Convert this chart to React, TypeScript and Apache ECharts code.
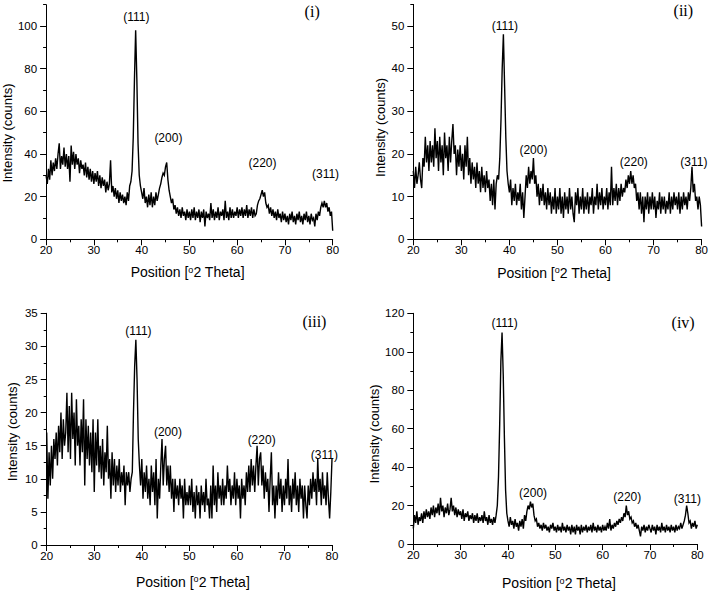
import React, { useEffect, useRef } from "react";
import * as echarts from "echarts";

// ---- data ----
const SCAN_START = 20;
const SCAN_STEP = 0.25;

const countsI = [
  30, 26, 33, 28, 37, 30, 36, 32, 38, 33, 40, 45, 33, 39, 35, 43, 34, 40, 33, 39,
  27, 44, 35, 41, 33, 40, 35, 38, 31, 37, 33, 35, 30, 36, 29, 34, 28, 33, 27, 32,
  26, 31, 27, 32, 25, 30, 24, 29, 25, 28, 22, 27, 23, 26, 37, 22, 25, 20, 24, 19,
  23, 17, 22, 18, 21, 17, 20, 16, 22, 18, 25, 27, 32, 48, 75, 98, 75, 45, 30, 25,
  22, 19, 24, 17, 20, 15, 21, 16, 22, 15, 20, 16, 22, 18, 21, 24, 26, 29, 31, 30,
  34, 36, 28, 23, 20, 17, 19, 14, 16, 12, 15, 11, 14, 10, 15, 11, 13, 9, 14, 10,
  13, 9, 14, 10, 15, 9, 13, 10, 14, 8, 13, 10, 14, 6, 13, 10, 12, 9, 17, 10,
  14, 9, 13, 10, 15, 9, 13, 11, 14, 9, 18, 10, 13, 9, 15, 10, 14, 10, 13, 11,
  15, 10, 14, 11, 15, 10, 14, 11, 16, 10, 14, 11, 15, 10, 14, 11, 12, 16, 18, 19,
  21, 23, 20, 22, 17, 15, 16, 12, 15, 11, 14, 10, 13, 9, 14, 10, 12, 8, 13, 9,
  12, 8, 11, 7, 12, 9, 13, 8, 11, 7, 12, 9, 13, 8, 11, 7, 12, 9, 13, 8,
  11, 7, 12, 9, 10, 6, 12, 9, 13, 11, 15, 17, 15, 18, 15, 17, 13, 15, 11, 13,
  4,
];

const countsII = [
  16, 12, 17, 13, 15, 18, 14, 12, 19, 17, 24, 18, 22, 16, 23, 18, 22, 17, 26, 19,
  23, 16, 24, 18, 22, 15, 25, 19, 22, 16, 24, 18, 23, 27, 20, 22, 15, 21, 17, 22,
  16, 20, 14, 22, 17, 24, 15, 19, 13, 18, 14, 17, 12, 18, 13, 16, 11, 17, 12, 15,
  11, 16, 12, 14, 9, 13, 8, 14, 7, 13, 15, 14, 19, 28, 40, 48, 36, 24, 16, 13,
  11, 14, 8, 12, 9, 13, 8, 11, 9, 13, 7, 11, 5, 10, 15, 12, 17, 13, 16, 14,
  19, 13, 15, 10, 13, 8, 12, 9, 13, 8, 11, 7, 12, 8, 11, 6, 10, 7, 12, 6,
  10, 7, 12, 6, 10, 5, 11, 7, 10, 6, 12, 7, 10, 6, 4, 11, 8, 12, 6, 10,
  7, 12, 6, 10, 7, 11, 6, 10, 8, 12, 6, 10, 8, 13, 7, 11, 8, 12, 7, 10,
  8, 12, 7, 11, 8, 17, 8, 12, 9, 13, 8, 12, 9, 13, 10, 12, 11, 14, 12, 15,
  13, 16, 13, 15, 12, 13, 9, 11, 7, 11, 6, 10, 4, 10, 7, 11, 6, 10, 7, 11,
  7, 10, 5, 9, 7, 11, 6, 10, 7, 10, 6, 9, 7, 11, 6, 10, 7, 11, 8, 10,
  7, 11, 6, 10, 7, 11, 8, 10, 7, 11, 9, 12, 17, 11, 13, 9, 10, 7, 10, 8,
  3,
];

const countsIII = [
  17, 7, 14, 9, 15, 10, 16, 13, 17, 12, 18, 14, 20, 13, 19, 15, 17, 23, 14, 21,
  13, 23, 16, 20, 12, 22, 15, 18, 12, 19, 14, 22, 9, 19, 13, 18, 12, 17, 11, 19,
  8, 17, 12, 19, 11, 15, 10, 16, 9, 14, 11, 18, 10, 13, 7, 14, 9, 13, 8, 12,
  9, 13, 8, 11, 9, 12, 6, 11, 9, 11, 8, 10, 11, 20, 27, 31, 25, 16, 12, 9,
  13, 7, 11, 8, 12, 7, 10, 6, 12, 8, 11, 6, 13, 4, 10, 7, 12, 16, 9, 13,
  15, 9, 12, 8, 12, 7, 10, 5, 10, 7, 9, 6, 10, 7, 9, 4, 10, 6, 8, 6,
  9, 6, 10, 5, 8, 4, 9, 6, 8, 4, 9, 6, 8, 5, 10, 6, 7, 4, 9, 4,
  12, 6, 9, 5, 11, 7, 9, 6, 10, 6, 9, 7, 12, 8, 10, 6, 9, 7, 11, 6,
  10, 7, 9, 4, 10, 7, 9, 6, 11, 8, 12, 8, 13, 9, 12, 8, 12, 15, 9, 13,
  14, 9, 12, 7, 11, 8, 10, 5, 10, 14, 6, 9, 4, 9, 6, 11, 7, 10, 5, 9,
  6, 10, 7, 13, 6, 9, 5, 10, 7, 11, 6, 9, 5, 10, 7, 9, 4, 9, 6, 4,
  9, 6, 10, 7, 11, 8, 10, 6, 13, 8, 10, 6, 11, 7, 9, 6, 11, 7, 4, 8,
  13,
];

const countsIV = [
  8, 15, 11, 17, 10, 14, 12, 16, 11, 17, 13, 18, 14, 17, 13, 19, 15, 20, 14, 19,
  16, 21, 15, 24, 17, 20, 14, 19, 16, 21, 15, 18, 24, 17, 20, 15, 19, 14, 18, 15,
  17, 13, 18, 12, 16, 14, 17, 12, 15, 13, 16, 11, 15, 12, 16, 11, 14, 12, 15, 11,
  17, 12, 14, 10, 15, 11, 13, 10, 14, 11, 15, 20, 35, 62, 95, 110, 88, 55, 28, 16,
  12, 9, 14, 10, 12, 8, 13, 9, 11, 7, 12, 9, 13, 8, 15, 12, 17, 20, 18, 22,
  19, 21, 15, 12, 13, 9, 11, 8, 10, 7, 11, 8, 10, 7, 9, 6, 10, 8, 11, 7,
  9, 6, 10, 7, 9, 6, 11, 7, 9, 6, 10, 7, 9, 5, 10, 6, 9, 5, 10, 7,
  9, 5, 10, 6, 9, 7, 10, 6, 9, 7, 10, 6, 11, 7, 9, 6, 10, 7, 9, 6,
  10, 7, 9, 7, 11, 8, 13, 7, 10, 8, 11, 9, 12, 10, 13, 11, 14, 12, 16, 14,
  20, 15, 17, 13, 14, 11, 12, 9, 11, 8, 10, 7, 4, 9, 7, 10, 6, 9, 7, 10,
  8, 6, 10, 7, 9, 5, 10, 7, 9, 6, 11, 7, 9, 6, 10, 7, 9, 6, 10, 7,
  9, 6, 10, 7, 9, 8, 11, 8, 10, 12, 15, 20, 16, 11, 12, 8, 11, 9, 12, 8,
  10,
];

const panelCounts = [countsI, countsII, countsIII, countsIV];
const panelTags = ["(i)", "(ii)", "(iii)", "(iv)"];
const peakNames = ["(111)", "(200)", "(220)", "(311)"];

const xMin = 20;
const xMax = 80;
const xMajor = 10;
const yMaxes = [110, 55, 35, 120];
const yMajors = [20, 10, 5, 20];
const yMinors = [10, 5, 2.5, 10];

const xTitle = "Position [{sup|o}2 Theta]";
const yTitle = "Intensity (counts)";

// ---- layout ----
const grids = [
  { left: 42.7, top: 4.7, width: 290, height: 234.6 },
  { left: 413.3, top: 4.4, width: 289.4, height: 234.9 },
  { left: 46.7, top: 313.3, width: 285.3, height: 231.7 },
  { left: 413.3, top: 313.3, width: 284, height: 230.7 },
];
const peakAnchors = [
  [[38.9, 104.2], [45.6, 47.3], [65.3, 36.0], [78.5, 30.6]],
  [[39.07, 50.0], [45.0, 20.9], [65.9, 18.0], [78.4, 18.1]],
  [[39.3, 32.3], [45.5, 17.1], [65.2, 15.9], [78.4, 13.55]],
  [[39.3, 114.8], [45.3, 26.6], [65.2, 24.6], [77.9, 23.4]],
];
const tagAnchors = [[75.7, 107], [76.2, 53.5], [76.3, 33.7], [77.0, 115]];
const xNameGap = [26, 26.5, 29.5, 32];
const xNameShift = [-1.7, -3.3, 3.6, 3.7];
const yNameGap = [28, 26, 28, 28.5];
const yNameShift = [11, 5.6, 2.5, 5.3];

const SANS = "'Liberation Sans', Arial, Helvetica, sans-serif";
const SERIF = "'Liberation Serif', 'Times New Roman', serif";

function isMultiple(v: number, step: number) {
  const r = v / step;
  return Math.abs(r - Math.round(r)) < 1e-6;
}

function buildOption() {
  const gridOpt: any[] = [];
  const xAxes: any[] = [];
  const yAxes: any[] = [];
  const series: any[] = [];

  panelCounts.forEach((counts, k) => {
    gridOpt.push({ ...grids[k], containLabel: false });

    const xs = xNameShift[k];
    xAxes.push({
      type: "value",
      gridIndex: k,
      min: xMin,
      max: xMax,
      interval: xMajor,
      axisLine: { show: true, lineStyle: { color: "#000", width: 1 } },
      axisTick: { show: true, inside: false, length: 6, lineStyle: { color: "#000", width: 1 } },
      minorTick: { show: true, splitNumber: 2, length: 3, lineStyle: { color: "#000", width: 1 } },
      axisLabel: { color: "#000", fontSize: 11.5, fontFamily: SANS, margin: 5 },
      splitLine: { show: false },
      minorSplitLine: { show: false },
      name: xTitle,
      nameLocation: "middle",
      nameGap: xNameGap[k],
      nameTextStyle: {
        color: "#000",
        fontSize: 14,
        fontFamily: SANS,
        padding: xs >= 0 ? [0, 0, 0, 2 * xs] : [0, -2 * xs, 0, 0],
        rich: {
          sup: { fontSize: 9, fontFamily: SANS, color: "#000", verticalAlign: "top", padding: [0, 0, 5, 0] },
        },
      },
    });

    const major = yMajors[k];
    const yMax = yMaxes[k];
    const majorValues: number[] = [];
    for (let v = 0; v <= yMax + 1e-9; v += major) majorValues.push(v);

    yAxes.push({
      type: "value",
      gridIndex: k,
      position: "left",
      min: 0,
      max: yMax,
      interval: yMinors[k],
      axisLine: { show: true, lineStyle: { color: "#000", width: 1 } },
      axisTick: { show: true, inside: false, length: 3, lineStyle: { color: "#000", width: 1 } },
      axisLabel: {
        color: "#000",
        fontSize: 11.5,
        fontFamily: SANS,
        margin: 9,
        formatter: (v: number) => (isMultiple(v, major) ? String(v) : ""),
      },
      splitLine: { show: false },
      name: yTitle,
      nameLocation: "middle",
      nameGap: yNameGap[k],
      nameTextStyle: {
        color: "#000",
        fontSize: 13,
        fontFamily: SANS,
        padding: [0, 2 * yNameShift[k], 0, 0],
      },
    });
    yAxes.push({
      type: "value",
      gridIndex: k,
      position: "left",
      min: 0,
      max: yMax,
      interval: major,
      axisLine: { show: false },
      axisLabel: { show: false },
      splitLine: { show: false },
      axisTick: {
        show: true,
        inside: false,
        length: 6,
        customValues: majorValues,
        lineStyle: { color: "#000", width: 1 },
      },
    });

    series.push({
      type: "line",
      xAxisIndex: k,
      yAxisIndex: 2 * k,
      symbol: "none",
      silent: true,
      lineStyle: { color: "#000", width: 1.4, join: "miter" },
      data: counts.map((c, i) => [SCAN_START + i * SCAN_STEP, c]),
    });
  });

  return {
    animation: false,
    backgroundColor: "#fff",
    grid: gridOpt,
    xAxis: xAxes,
    yAxis: yAxes,
    series,
  };
}

function buildLabels(chart: echarts.ECharts) {
  const elements: any[] = [];
  panelCounts.forEach((_, k) => {
    const finder = { xAxisIndex: k, yAxisIndex: 2 * k } as any;
    peakAnchors[k].forEach((c, i) => {
      const p = chart.convertToPixel(finder, c) as number[];
      elements.push({
        type: "text",
        x: p[0],
        y: p[1],
        silent: true,
        style: {
          text: peakNames[i],
          fill: "#000",
          fontSize: 12,
          fontFamily: SANS,
          align: "center",
          verticalAlign: "middle",
          textAlign: "center",
          textVerticalAlign: "middle",
        },
      });
    });
    const t = chart.convertToPixel(finder, tagAnchors[k]) as number[];
    elements.push({
      type: "text",
      x: t[0],
      y: t[1],
      silent: true,
      style: {
        text: panelTags[k],
        fill: "#000",
        fontSize: 16,
        fontFamily: SERIF,
        align: "center",
        verticalAlign: "middle",
        textAlign: "center",
        textVerticalAlign: "middle",
      },
    });
  });
  return elements;
}

export default function App() {
  const ref = useRef<HTMLDivElement>(null);
  useEffect(() => {
    document.body.style.margin = "0";
    if (!ref.current) return;
    const chart = echarts.init(ref.current, undefined, { renderer: "svg" });
    chart.setOption(buildOption() as any);
    chart.setOption({ graphic: buildLabels(chart) } as any);
    return () => chart.dispose();
  }, []);
  return (
    <div
      ref={ref}
      style={{ position: "absolute", left: 0, top: 0, width: 711, height: 591, background: "#fff" }}
    />
  );
}
